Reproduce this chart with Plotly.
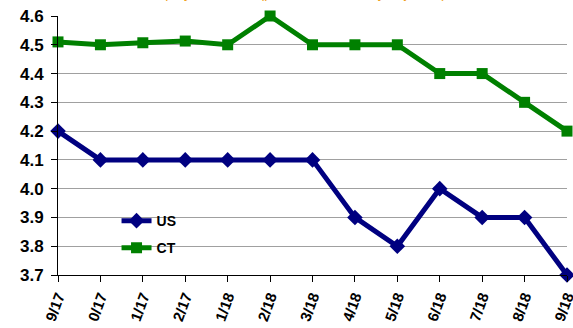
import plotly.graph_objects as go

months = ["9/17", "0/17", "1/17", "2/17", "1/18", "2/18", "3/18", "4/18",
          "5/18", "6/18", "7/18", "8/18", "9/18"]
us_values = [4.2, 4.1, 4.1, 4.1, 4.1, 4.1, 4.1, 3.9, 3.8, 4.0, 3.9, 3.9, 3.7]
ct_values = [4.51, 4.50, 4.507, 4.513, 4.50, 4.60, 4.50, 4.50, 4.50, 4.40, 4.40, 4.30, 4.20]
y_ticks = [3.7, 3.8, 3.9, 4.0, 4.1, 4.2, 4.3, 4.4, 4.5, 4.6]

x_idx = list(range(len(months)))

fig = go.Figure()
fig.add_trace(go.Scatter(
    x=x_idx, y=us_values, name="<b>US</b>", mode="lines+markers",
    legendgroup="us",
    line=dict(color="#000080", width=5),
    marker=dict(symbol="diamond", size=12, color="#000080"),
    cliponaxis=False,
))
fig.add_trace(go.Scatter(
    x=x_idx, y=ct_values, name="<b>CT</b>", mode="lines+markers",
    legendgroup="ct",
    line=dict(color="#008000", width=5),
    marker=dict(symbol="square", size=11, color="#008000"),
    cliponaxis=False,
))

fig.add_annotation(
    text="Unemployment Rate (percent, seasonally adjusted)",
    xref="paper", yref="paper", x=0.45, y=1.0, yshift=13,
    xanchor="center", yanchor="bottom", showarrow=False,
    font=dict(family="Liberation Sans, Arial", size=14, color="#F0A020"),
)

fig.update_layout(
    width=573, height=328,
    margin=dict(l=58, r=6, t=16, b=53, autoexpand=False),
    paper_bgcolor="white", plot_bgcolor="white",
    font=dict(family="Liberation Sans, Arial", size=14, color="black"),
    showlegend=True,
    legend=dict(
        x=0.115, y=0.27, xanchor="left", yanchor="top",
        bgcolor="rgba(0,0,0,0)", font=dict(size=14, color="black"),
        itemwidth=30, tracegroupgap=6,
    ),
    xaxis=dict(
        tickmode="array", tickvals=x_idx,
        ticktext=["<b>%s</b>" % m for m in months],
        range=[0, len(months) - 1], tickangle=-70,
        ticklabeloverflow="allow",
        showline=True, linecolor="black", linewidth=1,
        ticks="outside", ticklen=6, tickcolor="black",
        showgrid=False, zeroline=False, automargin=False,
        tickfont=dict(size=15, color="black"),
    ),
    yaxis=dict(
        range=[3.7, 4.6], tickmode="array", tickvals=y_ticks,
        ticktext=["<b>%.1f</b>" % v for v in y_ticks],
        showline=True, linecolor="black", linewidth=1,
        ticks="outside", ticklen=6, tickcolor="black",
        ticklabelstandoff=4,
        showgrid=True, gridcolor="#A0A0A0", gridwidth=1, zeroline=False,
        automargin=False,
        tickfont=dict(size=17, color="black"),
    ),
)

fig.write_html(
    "out.html",
    config={"displayModeBar": False},
    post_script="document.body.style.margin='0';document.body.style.padding='0';",
)
